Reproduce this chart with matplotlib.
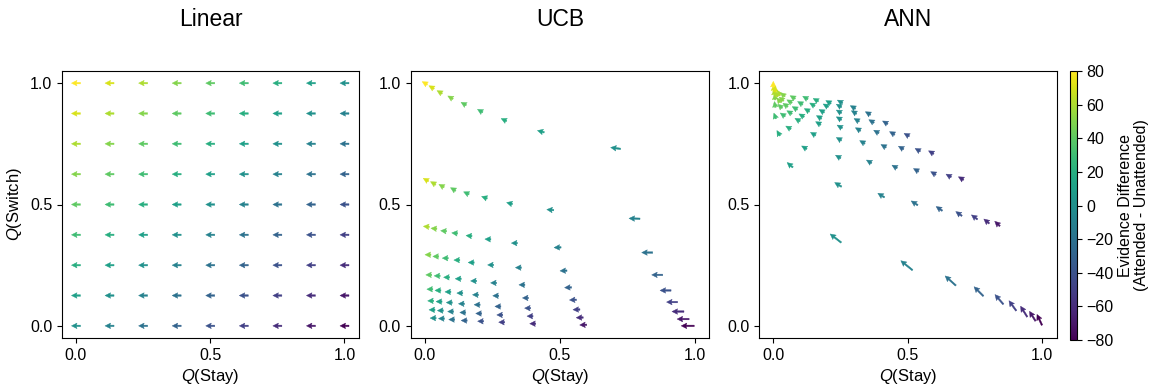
import numpy as np
import matplotlib
matplotlib.use("Agg")
import matplotlib.pyplot as plt
from matplotlib import colors

plt.rcParams['font.family'] = ['Liberation Sans', 'DejaVu Sans']
plt.rcParams['mathtext.fontset'] = 'custom'
plt.rcParams['mathtext.it'] = 'Liberation Sans:italic'
plt.rcParams['mathtext.rm'] = 'Liberation Sans'
plt.rcParams['axes.unicode_minus'] = True

# ---------------- data ----------------
titles = ["Linear", "UCB", "ANN"]
grid_vals = [0.0, 0.125, 0.25, 0.375, 0.5, 0.625, 0.75, 0.875, 1.0]

# evidence difference (attended - unattended); rows: Q(Switch) level low->high, cols: Q(Stay) level low->high
evidence = [
    [0, -10, -20, -30, -40, -50, -60, -70, -80],
    [10, 0, -10, -20, -30, -40, -50, -60, -70],
    [20, 10, 0, -10, -20, -30, -40, -50, -60],
    [30, 20, 10, 0, -10, -20, -30, -40, -50],
    [40, 30, 20, 10, 0, -10, -20, -30, -40],
    [50, 40, 30, 20, 10, 0, -10, -20, -30],
    [60, 50, 40, 30, 20, 10, 0, -10, -20],
    [70, 60, 50, 40, 30, 20, 10, 0, -10],
    [80, 70, 60, 50, 40, 30, 20, 10, 0],
]

# Linear: arrow direction (deg) and length (px)
linear_dir = 180.0
linear_len = 9.0

# UCB positions
ucb_x = [
    [0.031, 0.062, 0.100, 0.146, 0.207, 0.285, 0.400, 0.587, 0.974],
    [0.027, 0.058, 0.096, 0.141, 0.200, 0.278, 0.390, 0.574, 0.957],
    [0.022, 0.053, 0.091, 0.136, 0.194, 0.271, 0.381, 0.562, 0.938],
    [0.019, 0.049, 0.086, 0.130, 0.188, 0.263, 0.373, 0.549, 0.916],
    [0.015, 0.046, 0.081, 0.124, 0.181, 0.255, 0.360, 0.531, 0.892],
    [0.012, 0.041, 0.076, 0.119, 0.172, 0.244, 0.347, 0.514, 0.861],
    [0.006, 0.034, 0.070, 0.111, 0.164, 0.234, 0.332, 0.492, 0.824],
    [0.004, 0.031, 0.062, 0.105, 0.154, 0.221, 0.314, 0.465, 0.777],
    [0.000, 0.025, 0.055, 0.095, 0.144, 0.205, 0.293, 0.430, 0.707],
]
ucb_y = [
    [0.032, 0.030, 0.026, 0.022, 0.019, 0.015, 0.009, 0.004, 0.000],
    [0.066, 0.063, 0.059, 0.055, 0.051, 0.045, 0.040, 0.034, 0.028],
    [0.103, 0.100, 0.096, 0.091, 0.087, 0.080, 0.073, 0.067, 0.059],
    [0.151, 0.146, 0.140, 0.135, 0.128, 0.124, 0.115, 0.107, 0.098],
    [0.210, 0.206, 0.200, 0.194, 0.185, 0.177, 0.169, 0.158, 0.146],
    [0.293, 0.286, 0.279, 0.271, 0.261, 0.251, 0.240, 0.227, 0.210],
    [0.409, 0.401, 0.391, 0.382, 0.371, 0.357, 0.341, 0.323, 0.302],
    [0.602, 0.588, 0.577, 0.563, 0.547, 0.529, 0.505, 0.478, 0.442],
    [1.000, 0.983, 0.963, 0.941, 0.915, 0.886, 0.849, 0.801, 0.732],
]
ucb_dir = [
    [180, 180, 180, 180, 180, 180, 180, 182, 180],
    [180, 180, 180, 180, 180, 180, 180, 182, 180],
    [180, 180, 180, 180, 180, 180, 180, 182, 180],
    [180, 180, 180, 180, 180, 180, 180, 182, 180],
    [180, 180, 180, 180, 180, 180, 180, 182, 180],
    [180, 180, 180, 180, 180, 180, 180, 182, 180],
    [175, 175, 175, 175, 175, 178, 180, 182, 180],
    [150, 150, 150, 150, 155, 160, 165, 175, 178],
    [150, 150, 150, 150, 150, 150, 155, 165, 172],
]
ucb_len = [
    [6, 6, 6, 6, 6, 6, 6, 7, 13],
    [6, 6, 6, 6, 6, 6, 6, 7, 12],
    [6, 6, 6, 6, 6, 6, 6, 7, 12],
    [6, 6, 6, 6, 6, 6, 6, 7, 11],
    [6, 6, 6, 6, 6, 6, 6, 7, 11],
    [6, 6, 6, 6, 6, 6, 6, 7, 11],
    [6, 6, 6, 6, 6, 6, 6, 7, 11],
    [6, 6, 6, 6, 6, 6, 6, 7, 11],
    [6, 6, 6, 6, 6, 6, 6, 7, 10],
]

# ANN positions
ann_x = [
    [0.232, 0.496, 0.659, 0.764, 0.840, 0.890, 0.932, 0.964, 0.990],
    [0.062, 0.241, 0.401, 0.525, 0.617, 0.690, 0.748, 0.793, 0.833],
    [0.019, 0.115, 0.241, 0.356, 0.451, 0.531, 0.595, 0.652, 0.698],
    [0.006, 0.056, 0.148, 0.244, 0.331, 0.410, 0.475, 0.537, 0.587],
    [0.006, 0.035, 0.090, 0.167, 0.247, 0.315, 0.383, 0.442, 0.496],
    [0.006, 0.025, 0.060, 0.105, 0.170, 0.244, 0.310, 0.365, 0.416],
    [0.004, 0.020, 0.045, 0.080, 0.125, 0.180, 0.244, 0.300, 0.352],
    [0.002, 0.012, 0.030, 0.060, 0.100, 0.145, 0.195, 0.244, 0.296],
    [0.000, 0.008, 0.020, 0.035, 0.072, 0.119, 0.158, 0.205, 0.248],
]
ann_y = [
    [0.361, 0.249, 0.186, 0.142, 0.109, 0.083, 0.059, 0.040, 0.025],
    [0.663, 0.582, 0.538, 0.506, 0.483, 0.462, 0.448, 0.431, 0.421],
    [0.794, 0.735, 0.697, 0.677, 0.656, 0.642, 0.629, 0.619, 0.608],
    [0.865, 0.817, 0.791, 0.770, 0.757, 0.741, 0.734, 0.725, 0.715],
    [0.912, 0.870, 0.849, 0.835, 0.821, 0.810, 0.800, 0.794, 0.787],
    [0.943, 0.905, 0.880, 0.867, 0.860, 0.855, 0.848, 0.843, 0.838],
    [0.962, 0.930, 0.910, 0.897, 0.889, 0.885, 0.883, 0.880, 0.876],
    [0.980, 0.955, 0.935, 0.925, 0.918, 0.912, 0.908, 0.907, 0.901],
    [0.995, 0.975, 0.960, 0.953, 0.942, 0.940, 0.931, 0.922, 0.924],
]
ann_dir = [
    [142, 141, 138, 135, 131, 126, 122, 122, 115],
    [140, 149, 148, 147, 146, 145, 143, 140, 137],
    [120, 150, 150, 150, 150, 150, 150, 150, 150],
    [110, 150, 150, 150, 150, 150, 150, 150, 150],
    [100, 145, 150, 150, 150, 150, 150, 150, 150],
    [95, 140, 150, 150, 150, 150, 150, 150, 150],
    [90, 130, 145, 150, 150, 150, 150, 150, 150],
    [90, 110, 140, 150, 150, 150, 150, 150, 150],
    [90, 90, 120, 140, 150, 150, 150, 150, 150],
]
ann_len = [
    [14, 15, 14.4, 13.2, 12.8, 12.4, 12.6, 11.4, 11.8],
    [7.5, 8, 7.8, 7.8, 7.5, 7.5, 7.5, 7, 7],
    [6, 6, 6, 6, 6, 6, 6, 6, 6],
    [6, 6, 6, 6, 6, 6, 6, 6, 6],
    [6, 6, 6, 6, 6, 6, 6, 6, 6],
    [6, 6, 6, 6, 6, 6, 6, 6, 6],
    [6, 6, 6, 6, 6, 6, 6, 6, 6],
    [6, 6, 6, 6, 6, 6, 6, 6, 6],
    [6, 6, 6, 6, 6, 6, 6, 6, 6],
]

# ---------------- figure ----------------
W, H = 1158, 391
fig = plt.figure(figsize=(W / 100, H / 100), dpi=100)


def px_axes(left, top, right, bottom):
    return fig.add_axes([left / W, 1 - bottom / H, (right - left) / W, (bottom - top) / H])


axes_px = [(62, 71, 359, 338), (410.7, 71, 709.3, 338), (759.3, 71, 1056.7, 338)]
cmap = plt.get_cmap('viridis')
norm = colors.Normalize(vmin=-80, vmax=80)
ev = np.array(evidence, dtype=float)

gx, gy = np.meshgrid(grid_vals, grid_vals)
lin_dir = np.full(gx.shape, linear_dir)
lin_len = np.full(gx.shape, linear_len)

panels = [
    (gx, gy, lin_dir, lin_len),
    (np.array(ucb_x), np.array(ucb_y), np.array(ucb_dir, float), np.array(ucb_len, float)),
    (np.array(ann_x), np.array(ann_y), np.array(ann_dir, float), np.array(ann_len, float)),
]

for k, (px, (X, Y, D, L)) in enumerate(zip(axes_px, panels)):
    ax = px_axes(*px)
    U = L * np.cos(np.deg2rad(D))
    V = L * np.sin(np.deg2rad(D))
    ax.quiver(X.ravel(), Y.ravel(), U.ravel(), V.ravel(), ev.ravel(), cmap=cmap, norm=norm,
              angles='uv', scale_units='dots', scale=1, units='dots', width=1.5,
              headwidth=3.7, headlength=3.7, headaxislength=3.3, pivot='mid',
              linewidth=0.3, edgecolors='face')
    ax.set_xlim(-0.052, 1.054)
    ax.set_ylim(-0.05, 1.05)
    ax.set_xticks([0, 0.5, 1.0])
    ax.set_yticks([0, 0.5, 1.0])
    ax.tick_params(labelsize=11.5, length=3.5, width=0.8)
    for s in ax.spines.values():
        s.set_linewidth(0.8)
    ax.set_xlabel('$Q$(Stay)', fontsize=12, labelpad=3)
    if k == 0:
        ax.set_ylabel('$Q$(Switch)', fontsize=12, labelpad=4)
    cx = (px[0] + px[2]) / 2 / W
    fig.text(cx, 1 - 20 / H, titles[k], ha='center', va='center', fontsize=16.5)

cax = px_axes(1070, 71, 1077, 340)
sm = plt.cm.ScalarMappable(norm=norm, cmap=cmap)
cb = fig.colorbar(sm, cax=cax, ticks=[-80, -60, -40, -20, 0, 20, 40, 60, 80])
cb.outline.set_linewidth(0.8)
cb.ax.tick_params(labelsize=11.5, length=3.5, width=0.8)
cb.set_label('Evidence Difference\n(Attended - Unattended)', fontsize=11.5, labelpad=3,
             linespacing=1.1)

fig.savefig('out.png', dpi=100)
